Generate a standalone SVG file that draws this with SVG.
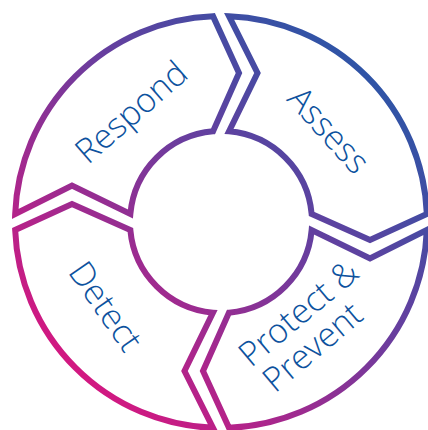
<svg xmlns="http://www.w3.org/2000/svg" width="428" height="430" viewBox="0 0 428 430">
  <defs>
    <linearGradient id="ring" gradientUnits="userSpaceOnUse" x1="400" y1="40" x2="60" y2="400">
      <stop offset="0" stop-color="#1f5aa8"/>
      <stop offset="0.45" stop-color="#6a3d9e"/>
      <stop offset="1" stop-color="#e0137d"/>
    </linearGradient>
  </defs>
  <style>
    .seg { fill: #ffffff; stroke: url(#ring); stroke-width: 6; stroke-linejoin: miter; stroke-miterlimit: 10; }
    .lbl { font-family: "Open Sans", "Noto Sans", "Liberation Sans", sans-serif; font-size: 34px; font-weight: 300; fill: #0d529e; text-anchor: middle; }
  </style>
  <rect width="428" height="430" fill="#ffffff"/>
  <g id="connectors"></g>
  <g id="respond">
    <path class="seg" d="M 15.16 214 A 206 206 0 0 1 213 16.16 L 239 73 L 213 131.35 A 91 91 0 0 0 130.35 214 L 72 185.5 Z"/>
    <text class="lbl" transform="translate(139,121) rotate(-41)">Respond</text>
  </g>
  <g id="assess">
    <path class="seg" d="M 229 16.16 A 206 206 0 0 1 426.84 214 L 370 240 L 311.65 214 A 91 91 0 0 0 229 131.35 L 257.5 73 Z"/>
    <text class="lbl" transform="translate(320,138) rotate(48)">Assess</text>
  </g>
  <g id="protect">
    <path class="seg" d="M 426.84 230 A 206 206 0 0 1 229 427.84 L 203 371 L 229 312.65 A 91 91 0 0 0 311.65 230 L 370 258.5 Z"/>
    <text class="lbl" transform="translate(306,322) rotate(-40)">Protect &amp;</text>
    <text class="lbl" transform="translate(320,356) rotate(-40)">Prevent</text>
  </g>
  <g id="detect">
    <path class="seg" d="M 213 427.84 A 206 206 0 0 1 15.16 230 L 72 204 L 130.35 230 A 91 91 0 0 0 213 312.65 L 184.5 371 Z"/>
    <text class="lbl" transform="translate(96,313) rotate(55)">Detect</text>
  </g>
</svg>
